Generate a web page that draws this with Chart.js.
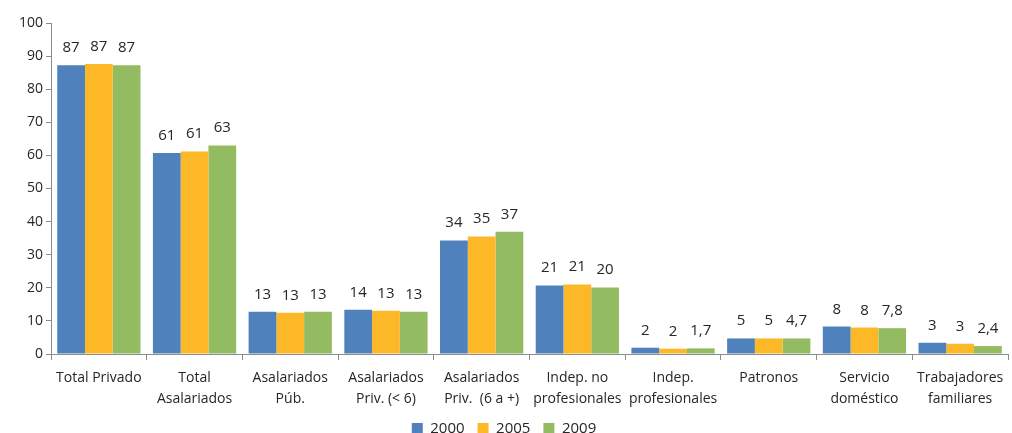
<!DOCTYPE html>
<html>
<head>
<meta charset="utf-8">
<script src="https://cdn.jsdelivr.net/npm/chart.js@4"></script>
<style>
  html, body { margin: 0; padding: 0; background: #fff; }
  #wrap { width: 1012px; height: 433px; position: relative; }
</style>
</head>
<body>
<div id="wrap"><canvas id="chart"></canvas></div>
<script>
// Categories (multi-line labels)
const categories = [
  ["Total Privado"],
  ["Total", "Asalariados"],
  ["Asalariados", "Púb."],
  ["Asalariados", "Priv. (< 6)"],
  ["Asalariados", "Priv.  (6 a +)"],
  ["Indep. no", "profesionales"],
  ["Indep.", "profesionales"],
  ["Patronos"],
  ["Servicio", "doméstico"],
  ["Trabajadores", "familiares"]
]

// Series values
const values2000 = [87.2, 60.7, 12.8, 13.4, 34.3, 20.7, 1.9, 4.7, 8.3, 3.4]
const values2005 = [87.6, 61.2, 12.5, 13.1, 35.5, 21.0, 1.6, 4.7, 8.0, 3.1]
const values2009 = [87.2, 63.0, 12.8, 12.8, 36.9, 20.1, 1.7, 4.7, 7.8, 2.4]

// Data labels as printed on the chart
const labels2000 = ["87", "61", "13", "14", "34", "21", "2", "5", "8", "3"]
const labels2005 = ["87", "61", "13", "13", "35", "21", "2", "5", "8", "3"]
const labels2009 = ["87", "63", "13", "13", "37", "20", "1,7", "4,7", "7,8", "2,4"]

const yTicks = { min: 0, max: 100, step: 10 }

const textColor = "#262626"
const axisColor = "#8c8c8c"
const fontFamily = "'Open Sans', 'Noto Sans', sans-serif"

// Simple plugin to draw value labels above each bar
const barLabels = {
  id: "barLabels",
  afterDatasetsDraw(chart) {
    const ctx = chart.ctx
    ctx.save()
    ctx.fillStyle = textColor
    ctx.font = "15px " + fontFamily
    ctx.textAlign = "center"
    ctx.textBaseline = "alphabetic"
    chart.data.datasets.forEach((ds, i) => {
      const meta = chart.getDatasetMeta(i)
      meta.data.forEach((bar, j) => {
        ctx.fillText(ds.valueLabels[j], bar.x, bar.y - 13)
      })
    })
    ctx.restore()
  }
}

new Chart(document.getElementById("chart").getContext("2d"), {
  type: "bar",
  data: {
    labels: categories,
    datasets: [
      { label: "2000", data: values2000, valueLabels: labels2000, backgroundColor: "#4F81BD" },
      { label: "2005", data: values2005, valueLabels: labels2005, backgroundColor: "#FDB827" },
      { label: "2009", data: values2009, valueLabels: labels2009, backgroundColor: "#93BC62" }
    ]
  },
  options: {
    responsive: true,
    maintainAspectRatio: false,
    animation: false,
    layout: { padding: { top: 23, right: 4, left: 0, bottom: -13 } },
    datasets: {
      bar: { categoryPercentage: 0.87, barPercentage: 1.0 }
    },
    plugins: {
      legend: {
        position: "bottom",
        labels: {
          boxWidth: 11,
          boxHeight: 11,
          padding: 13,
          color: textColor,
          font: { family: fontFamily, size: 15 }
        }
      },
      tooltip: { enabled: false }
    },
    scales: {
      x: {
        afterFit(scale) { scale.height = 54 },
        border: { color: axisColor, width: 1 },
        grid: {
          offset: true,
          drawOnChartArea: false,
          drawTicks: true,
          tickLength: 6,
          color: axisColor
        },
        ticks: {
          color: textColor,
          font: { family: fontFamily, size: 14, lineHeight: 1.5 },
          maxRotation: 0,
          autoSkip: false,
          padding: 8
        }
      },
      y: {
        min: yTicks.min,
        max: yTicks.max,
        afterFit(scale) { scale.width = 51 },
        border: { color: axisColor, width: 1 },
        grid: {
          drawOnChartArea: false,
          drawTicks: true,
          tickLength: 5,
          color: axisColor
        },
        ticks: {
          stepSize: yTicks.step,
          color: textColor,
          font: { family: fontFamily, size: 14 },
          padding: 3
        }
      }
    }
  },
  plugins: [barLabels]
})
</script>
</body>
</html>
